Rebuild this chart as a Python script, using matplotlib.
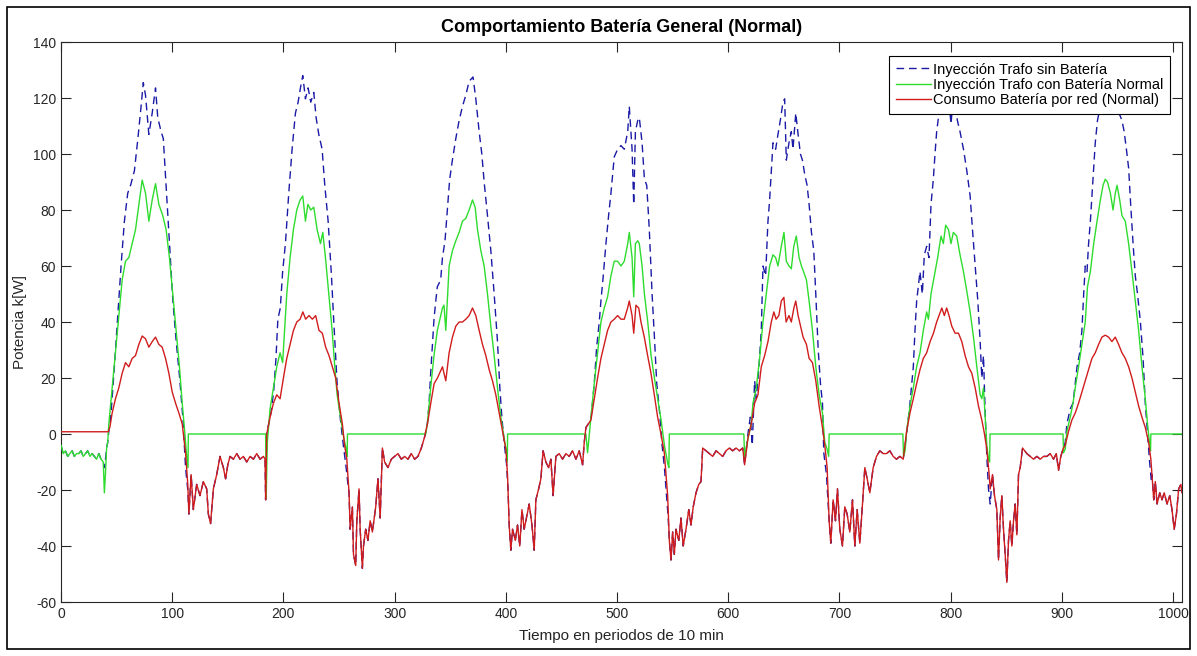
import numpy as np
import matplotlib
matplotlib.use("Agg")
import matplotlib.pyplot as plt
from matplotlib.patches import Rectangle

plt.rcParams['font.family'] = ['Liberation Sans', 'DejaVu Sans']
plt.rcParams['axes.unicode_minus'] = False

title = 'Comportamiento Batería General (Normal)'
xlabel = 'Tiempo en periodos de 10 min'
ylabel = 'Potencia k[W]'
labels = ['Inyección Trafo sin Batería',
          'Inyección Trafo con Batería Normal',
          'Consumo Batería por red (Normal)']
xticks = list(range(0, 1001, 100))
yticks = list(range(-60, 141, 20))

# (period, kW)
red_pts = [
    (0, 0.8), (42.5, 0.8), (44, 2.5), (46, 7.5), (49, 12.6), (52, 16.5), (55, 21.7), (58, 25.5), (61, 24),
    (64, 27), (67, 28), (70, 32), (73, 35), (76, 34), (79, 31), (82, 33), (85, 34.6), (88, 32), (91, 31),
    (94, 27), (97, 21.7), (100, 15), (103, 11), (106, 7.5), (109, 3.6), (112, -6.7), (114, -18),
    (115, -28.6), (117, -14.5), (119, -27), (122, -18), (125, -22), (128, -17), (131, -19.6), (132.5, -28.6),
    (134.5, -32), (137, -19.6), (140, -14.5), (143, -8), (146, -12), (148, -16), (150, -11), (152, -8),
    (155, -9), (158, -7), (161, -9), (164, -8), (167, -10), (170, -8), (173, -9), (176, -7), (179, -9),
    (182, -8), (183.5, -9), (184, -23.5),
    (185, 0), (188, 6), (191, 11), (194, 14), (197, 12.6), (200, 20), (203, 27), (206, 32), (209, 37),
    (212, 40), (215, 41), (217.5, 43.6), (220, 41), (223, 42.3), (226, 41), (229, 42.3), (232, 37),
    (235, 36), (238, 31), (241, 28), (244, 24), (247, 20), (250, 11), (253, 3.6), (255, -4), (257, -9),
    (259, -21), (260, -34), (262, -26), (263, -43), (265, -47), (266, -31), (268, -19.6), (269, -34),
    (271, -48), (272, -40), (274, -34), (276, -38), (278, -31), (280, -35), (283, -26), (285, -16),
    (287, -30), (289, -5), (291, -10), (294, -12), (297, -9), (300, -8), (303, -7), (306, -9), (309, -8),
    (312, -9), (315, -7), (318, -9), (321, -8), (324, -5), (327, -1), (328, 1),
    (329.5, 3.6), (332.5, 11), (335.5, 18), (338.5, 20), (343, 24), (346, 19), (349, 29), (352, 34.6),
    (355, 38.5), (358, 40), (361, 40), (364, 41), (367, 42.3), (370, 45), (373, 42.3), (376, 37),
    (379, 32), (382, 28), (385, 23), (388, 19), (391, 14), (394, 7.5), (397, 1), (400, -5.4), (401.5, -14.5),
    (403, -32.5), (404.5, -41.5), (406, -34), (408.5, -38), (410.5, -32.5), (412.5, -40), (414.5, -27),
    (416.5, -34), (418.5, -30), (421, -25), (423.5, -32.5), (425.5, -41.5), (427, -23.5), (429.5, -19.6),
    (431.5, -16), (433.5, -6), (436, -10), (438.5, -12), (440.5, -9), (442.5, -22), (445, -8), (448, -7),
    (451, -9), (454, -7), (457, -8), (460, -6), (463, -9), (466, -6), (469, -11), (470.5, -3), (472, 2.3),
    (476.5, 5), (479.5, 12.6), (482.5, 20), (485.5, 27), (488.5, 32), (491.5, 37), (494.5, 40), (497.5, 41),
    (500.5, 42.3), (503.5, 41), (506.5, 41), (509.5, 45), (511, 47.5), (513.5, 42.3), (515, 36), (517, 46),
    (519.5, 45), (521.5, 40), (524.5, 34.6), (527.5, 28), (530.5, 21.7), (533.5, 14), (536.5, 6),
    (539.5, 0), (542.5, -6.7), (545.5, -22),
    (547, -38), (548.5, -45), (550, -35), (551.5, -43), (553, -34), (555.5, -38), (557.5, -30),
    (559.5, -40), (562, -34), (564.5, -27), (566.5, -32.5), (568.5, -26), (571, -21), (573.5, -18),
    (575.5, -17), (577, -5), (580, -6), (583, -7), (586, -8), (589, -6), (592, -7), (595, -8), (598, -6),
    (601, -5), (604, -6), (607, -5), (610, -6), (613, -5), (614.7, -11), (617.7, -1.5),
    (620.7, 3.6), (623.7, 11), (626.7, 14), (629.7, 24), (632.7, 28), (635.7, 33), (638.7, 40), (641, 43.6),
    (643, 41), (645.5, 42.3), (647.7, 47.5), (650, 48.8), (652, 40), (654.6, 42.3), (656.7, 40), (659, 45),
    (660.7, 47.5), (662.8, 42.3), (665, 38.5), (667.3, 34.6), (670.3, 32), (672.7, 27), (675.7, 25.5),
    (678.7, 19), (681.7, 10), (684.7, 2.3), (686.8, -4), (688.9, -12),
    (690.7, -31), (692.2, -39), (694.3, -23.5), (696.4, -31), (698.2, -19.6), (700.3, -34), (702.7, -40),
    (704.8, -26), (706.9, -28.6), (709.3, -35), (711.7, -23.5), (713.8, -40), (715.9, -27), (718.3, -39),
    (720.7, -25), (722.8, -12), (724.9, -16), (727.3, -21), (730.3, -12), (733.3, -8), (736.3, -6),
    (739.3, -7), (742.3, -7), (745.3, -6), (748.3, -8), (751.3, -9), (754.3, -8), (757.3, -9),
    (760.4, 1), (763.4, 7.5), (766.4, 12.6), (769.4, 18), (772.4, 23), (775.4, 27), (778.4, 29),
    (781.5, 33), (784.5, 36), (787.4, 40), (789.5, 42.3), (792, 45), (794.3, 42.3), (796.4, 45),
    (798.5, 42.3), (801, 38.5), (804, 36), (807, 36), (810, 33), (813, 28), (816, 24), (819, 21.7),
    (822, 16.5), (825, 10), (828, 5), (830.4, 0), (832.5, -5.4), (834.6, -14.5),
    (835.5, -19.6), (837.6, -14.5), (839.4, -22), (841.5, -27), (843, -45), (844.5, -30), (846, -22),
    (847.5, -34), (849, -43), (850.5, -53), (852, -38), (853.5, -31), (855, -40), (856.5, -31), (858, -25),
    (859.5, -36), (861, -14.5), (862.5, -12), (864.6, -5), (868.5, -7), (871.5, -8), (874.5, -9),
    (877.5, -8), (880.5, -9), (883.5, -8), (886.5, -8), (889.5, -7), (892.5, -9), (895, -7), (897, -13),
    (899, -8), (901, -5.4),
    (903, -4), (906, 1), (909, 5), (912, 7.5), (915, 11), (918, 15), (921, 19), (924, 23), (927, 27),
    (930, 29), (933, 32), (936, 34.6), (939, 35.3), (942, 34.6), (945, 33), (948, 34.6), (951, 32),
    (954, 29), (957, 27), (960, 24), (963, 20), (966, 15), (969, 10), (972, 6), (975, 2.3), (978, -3),
    (980, -9),
    (981, -14.5), (982.6, -23.5), (984, -17), (985.6, -25), (988, -21), (990, -23.5), (992, -21),
    (994.6, -25), (997, -22), (999, -27), (1001, -34), (1003, -28.6), (1005, -19.6), (1007, -18), (1008, -21),
]

green_pts = [
    (0, -4), (2, -7), (4, -6), (6, -8), (8, -7), (10, -6), (12, -8), (14, -7), (16, -7), (18, -6), (20, -8),
    (22, -7), (24, -6), (26, -8), (28, -7), (30, -8), (32, -9), (34, -7), (36, -9), (38, -10), (39, -21),
    (40, -14), (41, -5), (42, -3),
    (43, 3.6), (46, 16.5), (49, 29), (52, 42), (55, 55), (58, 61.7), (61, 63), (64, 68), (67, 73), (70, 82),
    (73, 90.7), (76, 86), (79, 76), (82, 83.6), (85, 89.4), (88, 82), (91.5, 78), (94.5, 73), (97.5, 63),
    (100.5, 50), (103.5, 37), (106.5, 24), (109, 11), (111, 2), (113, -8), (114.2, -12), (114.5, 0),
    (184, 0), (184.5, -23), (185.5, -3), (188, 9), (191, 16.5), (194, 24), (197, 29), (199.3, 25.5),
    (201, 37), (203, 50), (206, 63), (209, 73), (212, 80), (215, 83.6), (217.4, 85), (219.8, 76), (222, 82),
    (224.6, 80), (227.3, 81), (230.3, 73), (233.3, 68), (235.4, 72), (237.8, 63), (240.8, 50), (243.8, 37),
    (246.2, 24), (248.3, 14), (251.3, 6), (254.3, -1.5), (256.4, -5.4), (257.3, -8), (257.6, 0),
    (328, 0), (329.4, 3.6), (332.4, 16.5), (335.4, 28), (338.4, 37), (343, 45), (344.4, 46), (346, 37),
    (349, 60), (352, 65.5), (355, 69), (358, 72), (361, 76), (364, 77), (367, 80), (370, 83.6), (372.4, 81),
    (374.5, 73), (377.5, 65.5), (380.5, 60), (383.5, 50), (386.5, 38.5), (389.5, 28), (392.5, 16.5),
    (395.5, 6), (398.5, -1.5), (400.6, -6.7), (401.3, -10), (401.6, 0),
    (472, 0), (473.5, -6.7), (476.5, 6), (479.5, 18), (482.5, 29), (485.5, 40), (488.5, 45), (491.5, 49),
    (494.5, 56.5), (497.5, 61.7), (500.5, 61.7), (503.5, 60), (506.5, 61.7), (509.6, 68), (511, 72),
    (513.5, 63), (515, 49), (516.5, 68), (518.6, 69), (520, 68), (522.5, 60), (524.6, 50), (527.6, 40),
    (530.6, 28), (533.6, 20), (536.6, 12.6), (539.6, 5), (542.6, -4), (545.6, -10.6), (546.6, -12), (547, 0),
    (614, 0), (614.7, -8), (617.7, -1.5), (620.7, 3.6), (622.2, 11), (625.2, 16.5), (628.2, 27), (631.2, 40),
    (634.2, 50), (637.2, 60), (640.2, 64), (642.6, 63), (644.7, 60), (647.7, 67), (650.1, 72), (652.2, 61.7),
    (654.6, 60), (656.7, 59), (658.9, 67), (661.2, 70.7), (663.7, 63), (665.8, 60), (667.9, 57.8),
    (670.3, 55), (672.7, 47.5), (675.7, 37), (678.7, 24), (681.7, 14), (684.7, 7.5), (686.8, -3),
    (688.9, -5.4), (690.3, -8), (690.7, 0),
    (757, 0), (757.6, -8), (759, -6), (760.4, 1), (763.4, 10), (766.4, 16.5), (769.4, 24), (772.4, 29),
    (775.4, 37), (778.4, 43.6), (780, 41), (782.3, 50), (785.3, 56.5), (788.3, 63), (791.3, 70.7),
    (793.4, 68), (795.5, 74.6), (798, 73), (800.3, 68), (802.4, 72), (805.4, 70.7), (808.4, 64),
    (811.5, 58), (814.5, 51), (817.5, 43.6), (820.5, 34.6), (823.5, 24), (826.5, 14), (828, 12.6),
    (829.5, 16.5), (831, 6), (832.5, -4), (834, -9), (835, -10), (835.4, 0),
    (901, 0), (901.5, -6.7), (903, -5.4), (904.5, 1), (907.5, 6), (910, 11), (912, 16.5), (915, 24),
    (918, 32), (921, 40), (923, 52.6), (925.6, 58), (928.6, 68), (931.6, 76), (934.6, 83.6), (937, 88.8),
    (939, 91), (941, 90), (943.6, 86), (946, 80), (948, 86), (949.6, 88.8), (952, 83.6), (954, 78),
    (957, 76), (960, 68), (963, 58), (966, 47.5), (969, 37), (972, 24), (975, 12.6), (977, 3.6), (979, -4),
    (979.7, -6), (980, 0), (1008, 0),
]

# daytime pieces of the "sin Batería" series; at night it equals the red series
blue_day_segments = [
    [(0, -4), (2, -7), (4, -6), (6, -8), (8, -7), (10, -6), (12, -8), (14, -7), (16, -7), (18, -6), (20, -8),
     (22, -7), (24, -6), (26, -8), (28, -7), (30, -8), (32, -9), (34, -7), (36, -9), (38, -10), (39, -12),
     (40, -9), (41, -5), (42, -3), (43, 1), (45, 7.5), (48, 24), (51, 42), (54, 60), (57, 76), (60, 86),
     (62.7, 89), (66, 94), (69, 105), (72, 117), (74, 125.5), (76, 121), (79, 107), (82, 114.6), (85, 123.6),
     (87, 113), (90, 108), (92, 105.5), (94.5, 88.8), (97.6, 68), (100.6, 47.5), (103.6, 33), (106.7, 20),
     (109.7, 5), (112, -12), (114, -20)],
    [(185.2, 1), (188.2, 6), (191.2, 15), (193.3, 27), (195, 41), (197.2, 45), (199.3, 58), (201.8, 68),
     (204.8, 86), (207.8, 101.7), (210.8, 114.6), (213.2, 118.5), (215.3, 123.6), (217.4, 128),
     (219.8, 119.7), (222.2, 123.6), (224.6, 118.5), (227.3, 122), (229.4, 113), (231.8, 107),
     (234.8, 101.7), (237.2, 88.8), (240.2, 76), (243.2, 56.5), (245.3, 40), (248.3, 18), (251.3, 5),
     (254.3, -5.4), (256.4, -12), (258, -18)],
    [(329.4, 3.6), (331, 11), (332.4, 21.7), (334, 32), (335.4, 41), (337, 47.5), (338.4, 52.6), (341.4, 55),
     (343, 63), (345.3, 69), (347.4, 80), (349.5, 91), (352, 98), (355, 105.5), (358, 112), (361, 117),
     (364, 121), (367, 126), (370.5, 127.5), (373, 119.7), (376, 108), (378.4, 100), (380.5, 90),
     (383.5, 78), (386.5, 65.5), (389.5, 50), (392.5, 33), (394.6, 16.5), (396.4, 6), (398.5, -3),
     (400.6, -10.6), (402, -20)],
    [(476.5, 5), (479.5, 18), (481.6, 30.7), (484, 40), (485.5, 47.5), (487.6, 56.5), (490, 68), (492.4, 78),
     (494.5, 86), (497.5, 99), (500.5, 101.7), (503.5, 103), (506.5, 101.7), (509.6, 108), (511, 117),
     (513.5, 101.7), (515, 82), (516.5, 108), (518.6, 112), (520, 113), (522.5, 104), (524.6, 91),
     (526.7, 88.8), (529, 73), (531.5, 50), (533.6, 34.6), (535.7, 18), (538, 9), (540.5, -4), (542.6, -12),
     (544, -19.6), (546, -30)],
    [(617.7, 0), (619.8, 6), (621.6, -4), (623.7, 19), (625.2, 12.6), (627.6, 24), (629.7, 37), (631.2, 60),
     (633.6, 56.5), (635.7, 76), (637.2, 83.6), (638.7, 94), (640.2, 104), (642.6, 101.7), (644.7, 107),
     (646.8, 112), (649.2, 118.5), (650.7, 119.7), (652.2, 97.8), (654.6, 104), (656.7, 108),
     (658.2, 101.7), (660.7, 114.6), (662.8, 107), (664.9, 100), (666.7, 97.8), (668.8, 92.6),
     (670.9, 88.8), (672.7, 82), (674.8, 72), (676.9, 65.5), (678.7, 50), (680.8, 30.7), (682.9, 18),
     (684.7, 11), (685.9, -6.7), (688.3, -14.5), (689.8, -25)],
    [(760.4, 0), (763.4, 11), (766.4, 24), (767.9, 37), (769.4, 47.5), (772.4, 58), (774.5, 50), (776.3, 64),
     (778.4, 67), (780.5, 63), (782.3, 82), (784.4, 91), (785.9, 100), (787.4, 108), (789.5, 114.6),
     (791.3, 122), (793.4, 127.5), (795.5, 124), (798, 121), (800.3, 110.7), (802.4, 121), (804.5, 118),
     (806, 112), (808.4, 108), (811.5, 101.7), (814.5, 94), (817.5, 85), (819.6, 73), (822, 60),
     (824.4, 47.5), (826.5, 33), (828, 20), (829.5, 28), (831, 7.5), (832.5, -8), (834, -19.6), (835.5, -25)],
    [(901.5, -5), (903, -3), (904.5, 3.6), (907.5, 9), (910, 11), (912, 18), (913.6, 24), (916, 29), (918, 37),
     (919.6, 50), (921, 60), (922.6, 58), (924, 68), (925.6, 76), (928, 91), (930, 104), (932, 112),
     (934.6, 117), (938, 121), (941, 118), (944, 123), (947, 119), (950, 116), (954, 112), (956, 108),
     (958, 101.7), (960, 95), (962, 81), (964, 68), (966, 56.5), (968, 50), (970.6, 40), (973, 27),
     (975, 11), (977, 0), (979, -10.6), (980.5, -17)],
]

# assemble blue: day pieces + the red night values in between
blue_pts = []
for k, seg in enumerate(blue_day_segments):
    blue_pts.extend(seg)
    t_end = seg[-1][0]
    t_next = blue_day_segments[k + 1][0][0] if k + 1 < len(blue_day_segments) else np.inf
    blue_pts.extend([p for p in red_pts if t_end < p[0] < t_next])

bt, bv = zip(*blue_pts)
gt, gv = zip(*green_pts)
rt, rv = zip(*red_pts)

W, H = 1197, 656
fig = plt.figure(figsize=(W / 100, H / 100), dpi=100)
ax = fig.add_axes([61 / W, 1 - 602 / H, 1121 / W, 560 / H])

ax.plot(bt, bv, color='#1a1aa6', lw=1.0, linestyle=(0, (5.5, 3.5)), label=labels[0], zorder=2)
ax.plot(gt, gv, color='#2edc2e', lw=1.0, label=labels[1], zorder=3)
ax.plot(rt, rv, color='#d01c1c', lw=1.0, label=labels[2], zorder=4)

ax.set_xlim(0, 1008)
ax.set_ylim(-60, 140)
ax.set_xticks(xticks)
ax.set_yticks(yticks)
tc = '#262626'
ax.tick_params(direction='in', top=True, right=True, length=7, width=0.8,
               colors=tc, labelsize=10)
for s in ax.spines.values():
    s.set_color(tc)
    s.set_linewidth(0.8)

ax.set_title(title, fontsize=13, fontweight='bold', color='black', pad=7)
ax.set_xlabel(xlabel, fontsize=11, color=tc, labelpad=6)
ax.set_ylabel(ylabel, fontsize=11, color=tc, labelpad=4)

leg = ax.legend(loc='upper right', bbox_to_anchor=((1170 - 61) / 1121, (602 - 56) / 560),
                borderaxespad=0, fancybox=False, edgecolor='black', framealpha=1,
                fontsize=10.5, handlelength=2.4, handletextpad=0.15, borderpad=0.45,
                labelspacing=0.1)
leg.get_frame().set_linewidth(0.8)
leg.set_zorder(10)

fig.add_artist(Rectangle((7 / W, 7 / H), (1190 - 7) / W, (649 - 7) / H,
                         transform=fig.transFigure, fill=False, edgecolor='black', lw=1.2))

fig.savefig('out.png', dpi=100)
